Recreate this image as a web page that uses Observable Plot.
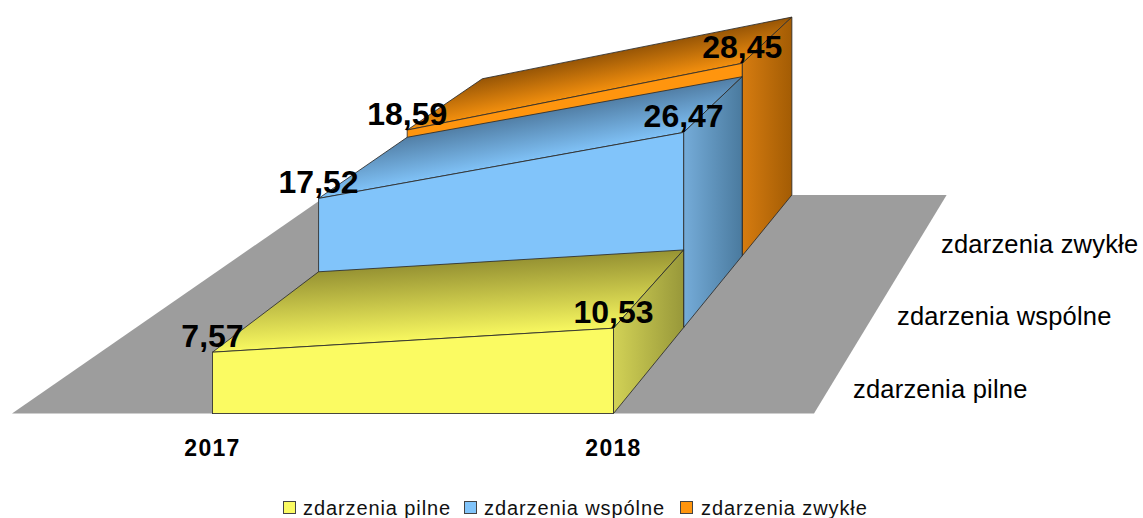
<!DOCTYPE html>
<html>
<head>
<meta charset="utf-8">
<script src="https://cdn.jsdelivr.net/npm/d3@7"></script>
<script src="https://cdn.jsdelivr.net/npm/@observablehq/plot@0.6"></script>
<style>
html,body{margin:0;padding:0;background:#fff;overflow:hidden}
#chart svg{display:block}
#legend{position:relative;height:26px;font:20px "Liberation Sans",sans-serif;letter-spacing:.9px;color:#111}
#legend .sw{position:absolute;top:9px;width:11px;height:11px;border:1px solid #444}
#legend .tx{position:absolute;top:3px;line-height:26px;white-space:nowrap}
.yr text{letter-spacing:1.3px}
.sl text{letter-spacing:.2px}
</style>
</head>
<body>
<div id="chart"></div>
<div id="legend"></div>
<script>
const years = ["2017", "2018"];
const seriesNames = ["zdarzenia pilne", "zdarzenia wspólne", "zdarzenia zwykłe"];
const pilne = [7.57, 10.53];
const wspolne = [17.52, 26.47];
const zwykle = [18.59, 28.45];
const seriesValues = [pilne, wspolne, zwykle];
const frontColors = ["#fbfb62", "#81c4fa", "#ff950e"];
const sideColors = [["#d2d256", "#98983a"], ["#75acd9", "#4a7a9e"], ["#d67c10", "#a35c04"]];
const topColors = [["#f8f860", "#979333"], ["#80c2f7", "#527fa6"], ["#f4900e", "#985606"]];
const floorColor = "#9d9d9d";
const legendSwatchX = [283, 464, 680];
const legendTextX = [303, 484, 701];
const sideLabelX = [852.5, 896.5, 940.5];
const sideLabelY = [396, 323, 251];

const W = 1143, H = 492;
// Perspective of the 3D chart: category position t, depth d, value v -> page coordinates
const vp = [1395, -545], persp = 0.0985;
const X0 = 212, Xspan = 401, Y0 = 413, K = 8.1;
function P(t, d, v) {
  const w = 1 + persp * d;
  return {
    x: vp[0] + (X0 + Xspan * t - vp[0]) / w,
    y: vp[1] + (Y0 - K * v - vp[1]) / w
  };
}
const faceMark = (pts, fill, stroke) => Plot.line([...pts, pts[0]], {
  x: "x", y: "y", fill, stroke: stroke ? "#2c2c2c" : "none", strokeWidth: 1, strokeOpacity: 0.85, strokeLinejoin: "round"
});

const grads = [];
function gradient(id, a, b, c0, c1) { grads.push({id, a, b, c0, c1}); return `url(#${id})`; }
const marks = [];

// floor, extending past the two categories
const floorT0 = -0.5, floorT1 = 1.5;
marks.push(faceMark([P(floorT0,0,0), P(floorT1,0,0), P(floorT1,3,0), P(floorT0,3,0)], floorColor, false));

// series back to front
for (let s = 2; s >= 0; s--) {
  const [a, b] = seriesValues[s];
  const f0 = P(0,s,a), f1 = P(1,s,b), b0 = P(0,s+1,a), b1 = P(1,s+1,b);
  // top surface gradient runs perpendicular to the front edge
  const ex = f1.x-f0.x, ey = f1.y-f0.y, L = Math.hypot(ex,ey);
  const nx = ey/L, ny = -ex/L;
  const dist = (b0.x-f0.x)*nx + (b0.y-f0.y)*ny;
  const gTop = gradient("top"+s, f0, {x:f0.x+nx*dist, y:f0.y+ny*dist}, topColors[s][0], topColors[s][1]);
  const gSide = gradient("side"+s, {x:f1.x,y:0}, {x:b1.x,y:0}, sideColors[s][0], sideColors[s][1]);
  marks.push(faceMark([f0, b0, b1, f1], gTop, true));
  marks.push(faceMark([f1, b1, P(1,s+1,0), P(1,s,0)], gSide, true));
  marks.push(faceMark([P(0,s,0), f0, f1, P(1,s,0)], frontColors[s], true));
}

const defsMark = () => {
  const g = d3.create("svg:defs");
  for (const q of grads) {
    const lg = g.append("linearGradient").attr("id", q.id).attr("gradientUnits","userSpaceOnUse")
      .attr("x1",q.a.x).attr("y1",q.a.y).attr("x2",q.b.x).attr("y2",q.b.y);
    lg.append("stop").attr("offset",0).attr("stop-color",q.c0);
    lg.append("stop").attr("offset",1).attr("stop-color",q.c1);
  }
  return g.node();
};

// value labels
const valueRows = seriesValues.flatMap((vals,s) => vals.map((v,t) => {
  const p = P(t,s,v);
  return {x:p.x, y:p.y, label:v.toFixed(2).replace(".",",")};
}));
marks.push(Plot.text(valueRows, {
  x:"x", y:"y", text:"label", dy:-5, lineAnchor:"bottom", textAnchor:"middle",
  fontFamily:"Liberation Sans", fontWeight:"bold", fontSize:32, fill:"#000"
}));
// category labels
marks.push(Plot.text(years.map((y,t)=>({x:P(t,0,0).x, y:456, label:y})), {
  x:"x", y:"y", text:"label", lineAnchor:"bottom", textAnchor:"middle", dy:-1, className:"yr",
  fontFamily:"Liberation Sans", fontWeight:"bold", fontSize:23, fill:"#000"
}));
// series labels on depth axis
marks.push(Plot.text(seriesNames.map((n,s)=>({x:sideLabelX[s], y:sideLabelY[s], label:n})), {
  x:"x", y:"y", text:"label", lineAnchor:"bottom", textAnchor:"start", dy:1, className:"sl",
  fontFamily:"Liberation Sans", fontSize:25.5, fill:"#000"
}));

const chart = Plot.plot({
  width: W, height: H, margin: 0,
  style: {background:"#fff", fontFamily:"Liberation Sans"},
  x: {domain:[0,W], range:[0,W], axis:null},
  y: {domain:[0,H], range:[0,H], axis:null},
  marks: [defsMark, ...marks]
});
document.getElementById("chart").append(chart);

const leg = document.getElementById("legend");
seriesNames.forEach((n,i)=>{
  const sw = document.createElement("div"); sw.className="sw";
  sw.style.left = legendSwatchX[i]+"px"; sw.style.background = frontColors[i];
  const tx = document.createElement("div"); tx.className="tx";
  tx.style.left = legendTextX[i]+"px"; tx.textContent = n;
  leg.append(sw, tx);
});
</script>
</body>
</html>
